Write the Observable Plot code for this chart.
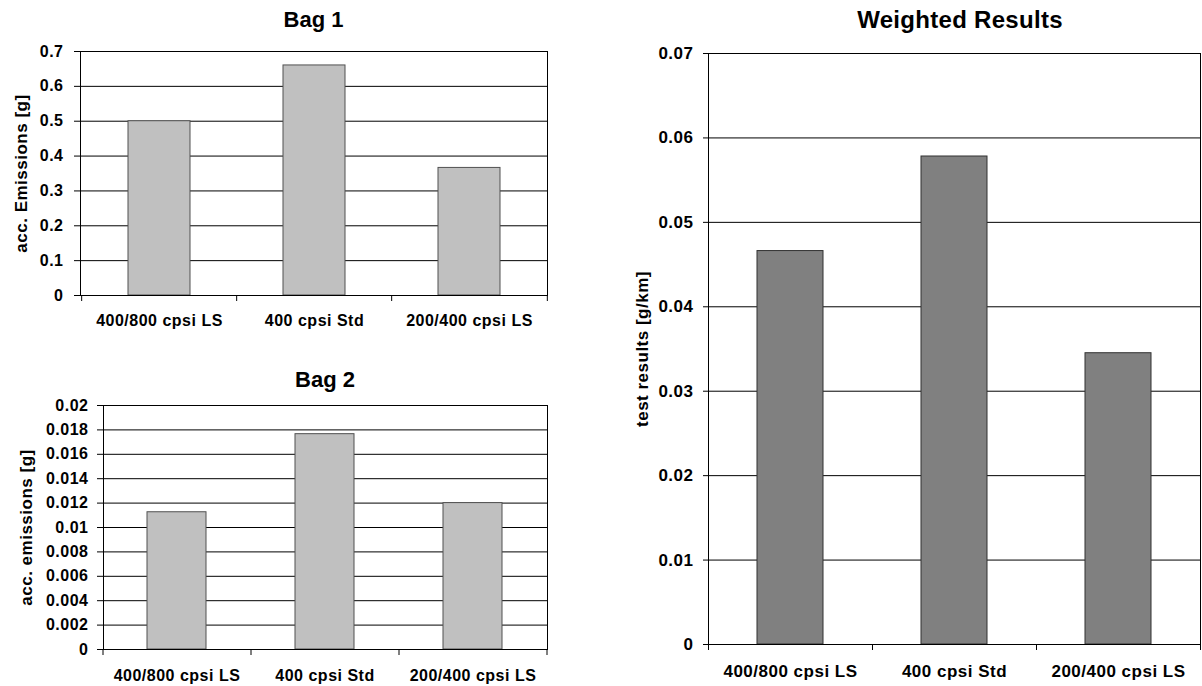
<!DOCTYPE html>
<html><head><meta charset="utf-8">
<script src="https://cdn.jsdelivr.net/npm/d3@7"></script>
<script src="https://cdn.jsdelivr.net/npm/@observablehq/plot@0.6"></script>
<style>
body{margin:0;background:#fff;}
#root{position:relative;width:1202px;height:686px;font-family:"Liberation Sans",Arial,sans-serif;overflow:hidden;}
.title{position:absolute;width:300px;font-weight:bold;text-align:center;color:#000;}
.panel{position:absolute;}
.panel svg{overflow:visible;}
</style></head><body><div id="root"></div>
<script>
const categories = ["400/800 cpsi LS", "400 cpsi Std", "200/400 cpsi LS"];

const bag1Values = [0.5, 0.66, 0.366];
const bag2Values = [0.01125, 0.01765, 0.012];
const weightedValues = [0.0466, 0.0578, 0.0345];

const bag1Ticks = [0, 0.1, 0.2, 0.3, 0.4, 0.5, 0.6, 0.7];
const bag1TickLabels = ["0", "0.1", "0.2", "0.3", "0.4", "0.5", "0.6", "0.7"];
const bag2Ticks = [0, 0.002, 0.004, 0.006, 0.008, 0.01, 0.012, 0.014, 0.016, 0.018, 0.02];
const bag2TickLabels = ["0", "0.002", "0.004", "0.006", "0.008", "0.01", "0.012", "0.014", "0.016", "0.018", "0.02"];
const weightedTicks = [0, 0.01, 0.02, 0.03, 0.04, 0.05, 0.06, 0.07];
const weightedTickLabels = ["0", "0.01", "0.02", "0.03", "0.04", "0.05", "0.06", "0.07"];

const titles = ["Bag 1", "Bag 2", "Weighted Results"];
const yLabels = ["acc. Emissions [g]", "acc. emissions [g]", "test results [g/km]"];

const root = document.getElementById("root");

function panel(o) {
  const data = categories.map((c, i) => ({cat: c, v: o.values[i]}));
  const n = categories.length;
  const step = (o.width - o.ml - o.mr) / n;
  const fmt = d => o.labels[o.ticks.indexOf(d)];
  const chart = Plot.plot({
    width: o.width, height: o.height,
    marginLeft: o.ml, marginRight: o.mr, marginTop: o.mt, marginBottom: o.mb,
    style: {fontFamily: '"Liberation Sans", Arial, sans-serif', fontWeight: "bold", fontSize: o.fs + "px", letterSpacing: "0.5px", color: "#000", background: "transparent", overflow: "visible"},
    x: {domain: categories, paddingInner: 0.6, paddingOuter: 0.3, align: 0.5, label: null},
    y: {domain: [o.ticks[0], o.ticks[o.ticks.length - 1]], label: null},
    marks: [
      Plot.ruleY(o.ticks.slice(1), {stroke: "#000", strokeWidth: 1}),
      Plot.barY(data, {x: "cat", y: "v", fill: o.fill, stroke: o.stroke, strokeWidth: 1}),
      Plot.frame({stroke: "#000", strokeWidth: 1}),
      Plot.axisY(o.ticks, {tickSize: o.yts, tickPadding: o.ytp, tickFormat: fmt, label: null, fontSize: o.fs}),
      Plot.axisX(categories, {tickSize: 6, tickFormat: () => "", dx: -step / 2, label: null}),
      Plot.axisX([categories[n - 1]], {tickSize: 6, tickFormat: () => "", dx: step / 2, label: null}),
      Plot.axisX(categories, {tickSize: 0, tickPadding: o.xtp, label: null, fontSize: o.xfs}),
      Plot.text([o.yLabel], {frameAnchor: "left", rotate: -90, lineAnchor: "top", textAnchor: "middle", dx: o.ldx, fontSize: o.lfs, fontWeight: "bold", fill: "#000"})
    ]
  });
  const div = document.createElement("div");
  div.className = "panel";
  div.style.left = o.left + "px";
  div.style.top = o.top + "px";
  div.appendChild(chart);
  root.appendChild(div);

  const t = document.createElement("div");
  t.className = "title";
  t.textContent = o.title;
  t.style.fontSize = o.tfs + "px";
  t.style.lineHeight = o.tfs + "px";
  t.style.letterSpacing = o.tls + "px";
  t.style.left = (o.left + o.ml + (o.width - o.ml - o.mr) / 2 + o.tdx - 150) + "px";
  t.style.top = o.titleTop + "px";
  root.appendChild(t);
}

panel({values: bag1Values, ticks: bag1Ticks, labels: bag1TickLabels, title: titles[0], yLabel: yLabels[0],
  left: 0, top: 0, width: 560, height: 340, ml: 80, mr: 13, mt: 51, mb: 45,
  fill: "#c0c0c0", stroke: "#505050", fs: 16, xfs: 16, lfs: 17, yts: 6, ytp: 11, xtp: 19, ldx: -66,
  titleTop: 9, tfs: 22, tls: 0, tdx: 0});

panel({values: bag2Values, ticks: bag2Ticks, labels: bag2TickLabels, title: titles[1], yLabel: yLabels[1],
  left: 0, top: 340, width: 560, height: 346, ml: 103, mr: 13, mt: 65, mb: 37,
  fill: "#c0c0c0", stroke: "#505050", fs: 16, xfs: 16, lfs: 17, yts: 6, ytp: 9, xtp: 20, ldx: -84,
  titleTop: 369, tfs: 22, tls: 0, tdx: 0});

panel({values: weightedValues, ticks: weightedTicks, labels: weightedTickLabels, title: titles[2], yLabel: yLabels[2],
  left: 600, top: 0, width: 602, height: 686, ml: 108, mr: 2, mt: 53, mb: 42,
  fill: "#808080", stroke: "#303030", fs: 17, xfs: 17, lfs: 17, yts: 5, ytp: 10, xtp: 20, ldx: -73,
  titleTop: 8, tfs: 24, tls: 0.3, tdx: 6});
</script>
</body></html>
